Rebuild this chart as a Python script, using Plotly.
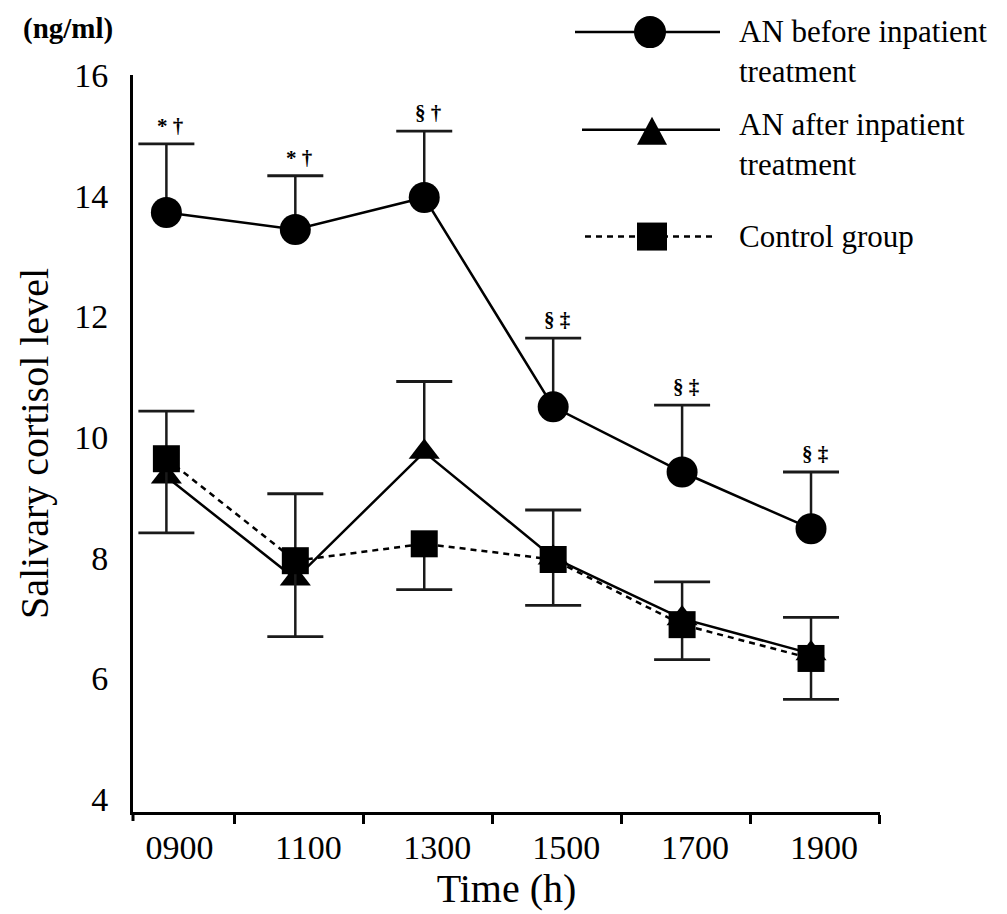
import plotly.graph_objects as go

# ---------------- data ----------------
categories = ["0900", "1100", "1300", "1500", "1700", "1900"]

before_mean = [13.72, 13.44, 13.97, 10.50, 9.42, 8.48]
before_sd = [1.14, 0.89, 1.10, 1.14, 1.11, 0.94]

after_mean = [9.34, 7.65, 9.75, 8.00, 6.99, 6.41]
after_sd = [1.09, 1.41, 1.17, 0.79, 0.61, 0.60]

control_mean = [9.64, 7.95, 8.23, 7.97, 6.89, 6.33]
control_sd = [1.23, 1.26, 0.76, 0.76, 0.58, 0.68]

signif_marks = ["* †", "* †", "§ †", "§ ‡", "§ ‡", "§ ‡"]

y_ticks = [4, 6, 8, 10, 12, 14, 16]

legend_names = ["AN before inpatient<br>treatment",
                "AN after inpatient<br>treatment",
                "Control group"]

# ---------------- layout helpers ----------------
W, H = 1007, 914
ML, MR, MT, MB = 133, 127, 75, 100
PW, PH = W - ML - MR, H - MT - MB


def px_x(px):
    return (px - ML) / PW


def px_y(py):
    return (H - MB - py) / PH


FONT = "Liberation Serif, Times New Roman, serif"
BLACK = "#000000"
BAR = "#1a1a1a"
idx = list(range(len(categories)))
n = len(categories)

fig = go.Figure()


def add_series(name, mean, sd, symbol, size, dash, upper):
    zeros = [0] * n
    fig.add_trace(go.Scatter(
        x=idx, y=mean, mode="lines+markers", name=name.replace("<br>", " "),
        line=dict(color=BLACK, width=2.5, dash=dash),
        marker=dict(symbol=symbol, size=size, color=BLACK, line=dict(width=0)),
        error_y=dict(type="data", symmetric=False,
                     array=sd if upper else zeros,
                     arrayminus=zeros if upper else sd,
                     width=0, thickness=2.5, color=BAR),
        showlegend=False,
    ))
    caps = [m + s if upper else m - s for m, s in zip(mean, sd)]
    fig.add_trace(go.Scatter(
        x=idx, y=caps, mode="markers",
        marker=dict(symbol="line-ew", size=40, color=BAR,
                    line=dict(width=2.8, color=BAR)),
        showlegend=False, hoverinfo="skip",
    ))


add_series(legend_names[1], after_mean, after_sd, "triangle-up", 27, "solid", True)
add_series(legend_names[2], control_mean, control_sd, "square", 27, "6px,5px", False)
add_series(legend_names[0], before_mean, before_sd, "circle", 31, "solid", True)

annotations = []
# significance marks above the "before" error bars
for i, (m, s, t) in enumerate(zip(before_mean, before_sd, signif_marks)):
    annotations.append(dict(
        x=i, y=m + s, xref="x", yref="y", text="<b>" + t + "</b>",
        showarrow=False, yanchor="bottom", yshift=4, xshift=4,
        font=dict(family=FONT, size=21, color=BLACK),
    ))

# unit label
annotations.append(dict(
    x=px_x(68), y=px_y(28), xref="paper", yref="paper", text="<b>(ng/ml)</b>",
    showarrow=False, xanchor="center", yanchor="middle",
    font=dict(family=FONT, size=29, color=BLACK),
))

# ---------------- manual legend ----------------
shapes = []
leg_rows = [
    # (line y, line x0, line x1, marker x, text centre y, dash, marker)
    (32, 575, 720, 650, 51, "solid", "circle"),
    (130, 582, 720, 652, 145, "solid", "triangle"),
    (237, 585, 715, 652, 237, "dash", "square"),
]
for (ly, lx0, lx1, mx, ty, dash, mk), label in zip(leg_rows, legend_names):
    shapes.append(dict(type="line", xref="paper", yref="paper",
                       x0=px_x(lx0), x1=px_x(lx1), y0=px_y(ly), y1=px_y(ly),
                       line=dict(color=BLACK, width=2.5,
                                 dash="6px,5px" if dash == "dash" else "solid")))
    common = dict(xref="paper", yref="paper", xsizemode="pixel", ysizemode="pixel",
                  xanchor=px_x(mx), yanchor=px_y(ly), fillcolor=BLACK,
                  line=dict(width=0))
    if mk == "circle":
        shapes.append(dict(type="circle", x0=-16, x1=16, y0=-16, y1=16, **common))
    elif mk == "triangle":
        shapes.append(dict(type="path", path="M-15,-15 L15,-15 L0,13 Z", **common))
    else:
        shapes.append(dict(type="rect", x0=-15, x1=15, y0=-14, y1=14, **common))
    annotations.append(dict(
        x=px_x(737), y=px_y(ty), xref="paper", yref="paper", text=label,
        showarrow=False, xanchor="left", yanchor="middle", align="left",
        font=dict(family=FONT, size=31, color=BLACK),
    ))

# tick at the axis corner
shapes.append(dict(type="line", xref="paper", yref="paper", x0=0, x1=0,
                   y0=0, y1=px_y(H - MB + 9), line=dict(color=BLACK, width=3)))

fig.update_layout(
    width=W, height=H,
    margin=dict(l=ML, r=MR, t=MT, b=MB),
    paper_bgcolor="white", plot_bgcolor="white",
    showlegend=False,
    font=dict(family=FONT, color=BLACK),
    xaxis=dict(
        range=[-0.259, 5.535],
        tickmode="array", tickvals=idx, ticktext=categories,
        ticks="", ticklabelshift=13, ticklabelstandoff=3,
        tickfont=dict(family=FONT, size=34, color=BLACK),
        showline=True, linewidth=3, linecolor=BLACK,
        showgrid=False, zeroline=False,
        minor=dict(ticks="outside", tick0=0.53, dtick=1, ticklen=9,
                   tickwidth=3, tickcolor=BLACK, showgrid=False),
        title=dict(text="Time (h)", font=dict(family=FONT, size=40, color=BLACK),
                   standoff=8),
    ),
    yaxis=dict(
        range=[3.785, 16.0],
        tickmode="array", tickvals=y_ticks,
        ticks="", ticklabelstandoff=15,
        tickfont=dict(family=FONT, size=34, color=BLACK),
        showline=True, linewidth=3, linecolor=BLACK,
        showgrid=False, zeroline=False,
        title=dict(text="Salivary cortisol level",
                   font=dict(family=FONT, size=40, color=BLACK), standoff=14),
    ),
    annotations=annotations,
    shapes=shapes,
)

fig.write_html(
    "out.html",
    config={"displayModeBar": False},
    post_script="document.body.style.margin='0';document.body.style.overflow='hidden';",
)
